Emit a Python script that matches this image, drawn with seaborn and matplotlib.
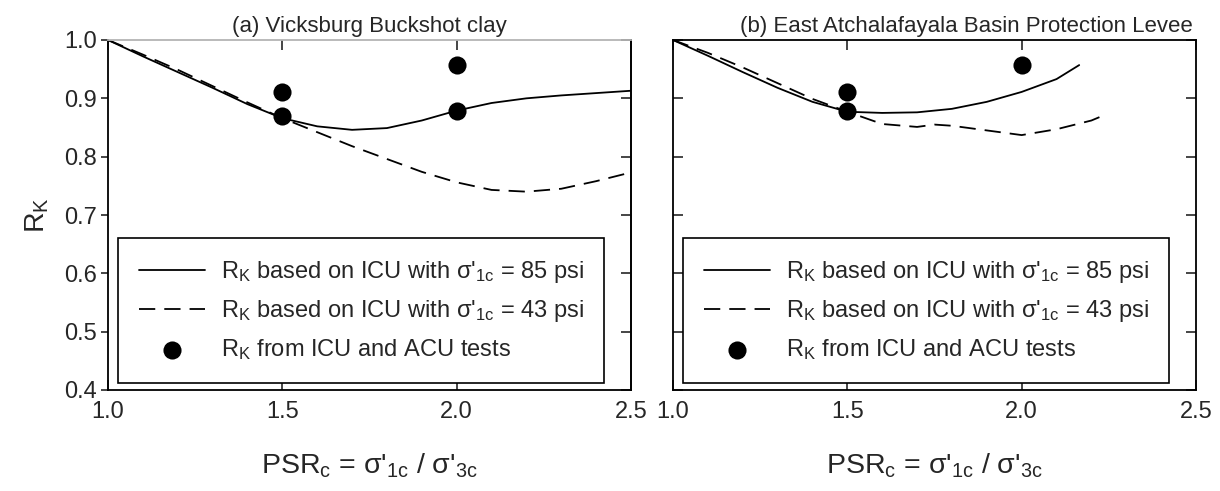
import numpy as np
import pandas as pd
import matplotlib
matplotlib.use("Agg")
import matplotlib.pyplot as plt
import seaborn as sns

# ---- data -------------------------------------------------------------
# (a) Vicksburg Buckshot clay
a_psr_85 = [1.0, 1.1, 1.2, 1.3, 1.4, 1.5, 1.6, 1.7, 1.8, 1.9, 2.0, 2.1, 2.2, 2.3, 2.4, 2.5]
a_rk_85 = [1.000, 0.972, 0.945, 0.918, 0.890, 0.866, 0.852, 0.846, 0.849, 0.862,
           0.879, 0.892, 0.900, 0.905, 0.909, 0.913]
a_psr_43 = [1.0, 1.1, 1.2, 1.3, 1.4, 1.5, 1.6, 1.7, 1.8, 1.9, 2.0, 2.1, 2.2, 2.3, 2.4, 2.5]
a_rk_43 = [1.000, 0.975, 0.949, 0.921, 0.893, 0.866, 0.842, 0.818, 0.796, 0.774,
           0.756, 0.743, 0.740, 0.745, 0.758, 0.773]
a_test_psr = [1.5, 1.5, 2.0, 2.0]
a_test_rk = [0.911, 0.870, 0.958, 0.878]

# (b) East Atchalafayala Basin Protection Levee
b_psr_85 = [1.0, 1.1, 1.2, 1.3, 1.4, 1.5, 1.6, 1.7, 1.8, 1.9, 2.0, 2.1, 2.165]
b_rk_85 = [1.000, 0.973, 0.945, 0.918, 0.894, 0.877, 0.875, 0.876, 0.882, 0.894,
           0.911, 0.933, 0.957]
b_psr_43 = [1.0, 1.1, 1.2, 1.3, 1.4, 1.5, 1.6, 1.7, 1.75, 1.8, 1.9, 2.0, 2.1, 2.2, 2.24]
b_rk_43 = [1.000, 0.978, 0.953, 0.926, 0.899, 0.877, 0.856, 0.851, 0.855, 0.853,
           0.845, 0.837, 0.847, 0.862, 0.872]
b_test_psr = [1.5, 1.5, 2.0]
b_test_rk = [0.911, 0.879, 0.958]

titles = ["(a) Vicksburg Buckshot clay", "(b) East Atchalafayala Basin Protection Levee"]
x_ticks = [1.0, 1.5, 2.0, 2.5]
y_ticks = [0.4, 0.5, 0.6, 0.7, 0.8, 0.9, 1.0]

label_85 = r"R$_K$ based on ICU with σ'$_{1c}$ = 85 psi"
label_43 = r"R$_K$ based on ICU with σ'$_{1c}$ = 43 psi"
label_test = r"R$_K$ from ICU and ACU tests"

# ---- style ------------------------------------------------------------
sns.set_style("ticks")
plt.rcParams["font.family"] = ["Liberation Sans", "DejaVu Sans"]
plt.rcParams["mathtext.default"] = "regular"

W, H = 1220, 491
fig = plt.figure(figsize=(W / 100, H / 100), dpi=100)

def px_axes(x0, x1, y0, y1):
    return fig.add_axes([x0 / W, 1 - y1 / H, (x1 - x0) / W, (y1 - y0) / H])

ax_a = px_axes(108, 631, 40, 390)
ax_b = px_axes(673, 1196, 40, 390)

panels = [
    (ax_a, a_psr_85, a_rk_85, a_psr_43, a_rk_43, a_test_psr, a_test_rk),
    (ax_b, b_psr_85, b_rk_85, b_psr_43, b_rk_43, b_test_psr, b_test_rk),
]

TICK_FS = 17
TITLE_FS = 16
for i, (ax, x85, y85, x43, y43, xt, yt) in enumerate(panels):
    sns.lineplot(x=x85, y=y85, ax=ax, color="black", linewidth=1.3,
                 label=label_85, errorbar=None)
    sns.lineplot(x=x43, y=y43, ax=ax, color="black", linewidth=1.3,
                 linestyle=(0, (9, 5)), label=label_43, errorbar=None)
    sns.scatterplot(x=xt, y=yt, ax=ax, color="black", s=170, linewidth=0,
                    label=label_test, zorder=5)

    ax.set_xlim(1.0, 2.5)
    ax.set_ylim(0.4, 1.0)
    ax.set_xticks(x_ticks)
    ax.set_yticks(y_ticks)
    ax.set_xticklabels([f"{v:.1f}" for v in x_ticks], fontsize=TICK_FS)
    for sp in ax.spines.values():
        sp.set_visible(True)
        sp.set_linewidth(1.3)
        sp.set_color("black")

    ax.tick_params(axis="x", direction="in", top=True, bottom=True,
                   length=7, width=1.2, pad=8)
    if i == 0:
        ax.set_yticklabels([f"{v:.1f}" for v in y_ticks], fontsize=TICK_FS)
        ax.tick_params(axis="y", direction="out", left=True, right=False,
                       length=5, width=1.2, pad=3)
        # inward ticks on the right spine
        sec = ax.secondary_yaxis("right")
        sec.set_yticks(y_ticks)
        sec.set_yticklabels([])
        sec.tick_params(direction="in", length=7, width=1.2)
        sec.spines["right"].set_linewidth(1.3)
        ax.spines["top"].set_color("#b4b4b4")
        ax.set_ylabel("")
        ax.set_title(titles[i], fontsize=TITLE_FS, pad=6)
    else:
        ax.set_yticklabels([])
        ax.tick_params(axis="y", direction="in", left=True, right=True,
                       length=7, width=1.2)
        ax.set_ylabel("")
        ax.set_title(titles[i], fontsize=TITLE_FS, pad=6, x=0.56)

    ax.set_xlabel(r"PSR$_c$ = σ'$_{1c}$ / σ'$_{3c}$", fontsize=20.5)
    ax.xaxis.set_label_coords(0.5, -0.175)

    leg = ax.legend(loc="lower left", bbox_to_anchor=(0.019, 0.02, 0.929, 0.423),
                    mode="expand", fontsize=17, frameon=True, fancybox=False,
                    framealpha=1, edgecolor="black", handlelength=2.8,
                    handletextpad=0.66, borderpad=0.9, labelspacing=0.55,
                    borderaxespad=0)
    leg.get_frame().set_linewidth(1.2)

fig.text(37 / W, 1 - 215 / H, r"R$_K$", fontsize=20.5, rotation=90,
         ha="center", va="center")

fig.savefig("out.png", dpi=100)
